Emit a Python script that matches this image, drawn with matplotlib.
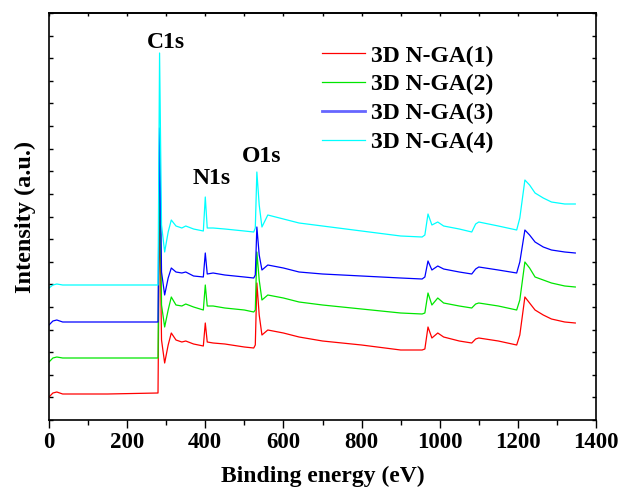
import numpy as np
import matplotlib
matplotlib.use("Agg")
import matplotlib.pyplot as plt
from matplotlib.ticker import MultipleLocator, FixedLocator

plt.rcParams['font.family'] = ['Liberation Serif', 'DejaVu Serif']
plt.rcParams['font.weight'] = 'bold'

# Binding energy points (eV)
energy = [0, 10, 20, 35, 150, 279, 283, 288, 296, 305, 313, 325, 340, 350, 370, 395,
          400, 405, 420, 450, 500, 524, 528, 532, 538, 545, 560, 600, 640, 700,
          800, 900, 955, 962, 970, 980, 995, 1010, 1050, 1082, 1092, 1100, 1150,
          1197, 1205, 1218, 1230, 1244, 1265, 1286, 1320, 1347]

# Intensities (a.u., offset curves as drawn)
nga1 = [23, 27, 28, 26, 26, 27, 220, 80, 57, 75, 87, 80, 78, 79, 76, 74,
        97, 78, 77, 76, 73, 72, 75, 137, 105, 85, 90, 87, 83, 79,
        75, 70, 70, 71, 93, 82, 87, 83, 79, 77, 81, 82, 79,
        75, 85, 123, 117, 110, 105, 101, 98, 97]
nga2 = [58, 62, 63, 62, 62, 62, 270, 115, 93, 110, 123, 115, 114, 116, 113, 110,
        135, 114, 114, 112, 110, 108, 110, 168, 140, 120, 125, 122, 118, 115,
        111, 107, 106, 107, 127, 115, 122, 117, 114, 112, 116, 117, 114,
        110, 120, 158, 152, 143, 140, 137, 134, 133]
nga3 = [95, 99, 100, 98, 98, 98, 292, 148, 125, 142, 152, 148, 147, 148, 144, 143,
        167, 146, 147, 145, 143, 142, 145, 193, 165, 150, 155, 152, 148, 146,
        144, 142, 141, 143, 159, 150, 154, 151, 148, 146, 151, 153, 150,
        147, 158, 190, 185, 178, 173, 170, 168, 167]
nga4 = [132, 135, 136, 135, 135, 135, 367, 195, 168, 188, 200, 194, 192, 194, 191, 189,
        223, 192, 192, 191, 189, 188, 192, 248, 215, 193, 205, 201, 197, 194,
        189, 184, 183, 185, 206, 195, 198, 194, 191, 188, 196, 198, 194,
        190, 202, 240, 235, 227, 222, 218, 216, 216]

series = [nga1, nga2, nga3, nga4]
labels = ['3D N-GA(1)', '3D N-GA(2)', '3D N-GA(3)', '3D N-GA(4)']
colors = ['#ff0000', '#00e600', '#0000ff', '#00ffff']

peaks = ['C1s', 'N1s', 'O1s']
peak_pos = [(299, 378), (416, 241), (544, 264)]

fig = plt.figure(figsize=(6.22, 4.91), dpi=100)
ax = fig.add_axes([49/622, 71/491, 547/622, 407/491])

for y, lab, c in zip(series, labels, colors):
    ax.plot(energy, y, color=c, lw=0.9, label=lab)

for name, (px, py) in zip(peaks, peak_pos):
    ax.text(px, py, name, fontsize=17, fontweight='bold', ha='center', va='center')

ax.set_xlim(0, 1400)
ax.set_ylim(0, 407)
ax.xaxis.set_major_locator(MultipleLocator(200))
ax.xaxis.set_minor_locator(MultipleLocator(100))
ax.yaxis.set_major_locator(FixedLocator(np.arange(0, 408, 407/18)))
ax.set_yticklabels([])

ax.tick_params(axis='x', which='major', direction='out', length=6, width=1,
               labelsize=16.5, pad=3)
ax.tick_params(axis='x', which='minor', direction='out', length=3.5, width=1)
ax.tick_params(axis='y', which='both', direction='in', length=3, width=1,
               left=True, right=True)

top = ax.secondary_xaxis('top')
top.xaxis.set_major_locator(MultipleLocator(100))
top.tick_params(direction='in', length=2, width=1, labeltop=False)
top.spines['top'].set_linewidth(1.2)

for s in ax.spines.values():
    s.set_linewidth(1.2)

ax.set_xlabel('Binding energy (eV)', fontsize=17, fontweight='bold', labelpad=9)
ax.set_ylabel('Intensity (a.u.)', fontsize=17.5, fontweight='bold', labelpad=6)

leg = ax.legend(loc='upper left', bbox_to_anchor=(0.499, 0.921), frameon=False,
                fontsize=17, handlelength=1.82, handletextpad=0.25,
                labelspacing=0.31, borderpad=0, borderaxespad=0)
leg.get_lines()[2].set_linewidth(2)
leg.get_lines()[2].set_color('#6666ff')

fig.savefig('out.png', dpi=100)
